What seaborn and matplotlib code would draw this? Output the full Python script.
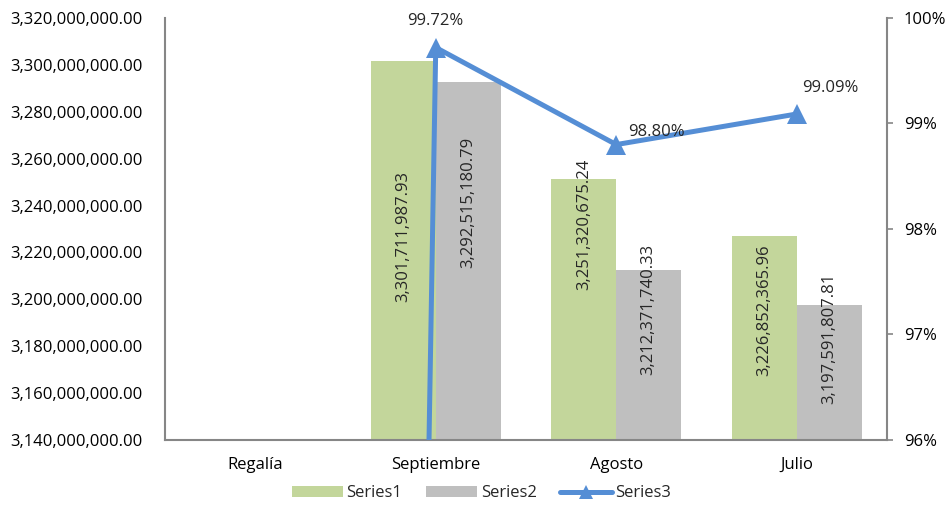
import matplotlib

matplotlib.use("Agg")

import matplotlib.pyplot as plt
import numpy as np
import pandas as pd
import seaborn as sns
from matplotlib.lines import Line2D
from matplotlib.ticker import FuncFormatter, MultipleLocator

# --- chart data ---
categories = ["Regalía", "Septiembre", "Agosto", "Julio"]
series1 = [np.nan, 3301711987.93, 3251320675.24, 3226852365.96]
series2 = [np.nan, 3292515180.79, 3212371740.33, 3197591807.81]
series3 = [0.0, 99.72, 98.80, 99.09]  # percent
series_names = ["Series1", "Series2", "Series3"]

# where excel put the rotated bar labels (left axis units)
label_pos1 = [np.nan, 3.2266e9, 3.2321e9, 3.1955e9]
label_pos2 = [np.nan, 3.2415e9, 3.1955e9, 3.1835e9]
# offsets (points) of the percent labels from their markers
pct_offsets = [(0, 0), (0, 19), (29, 9), (24, 19)]

GREEN = "#C3D69B"
GRAY = "#BFBFBF"
BLUE = "#558ED5"
SPINE = "#868686"

sns.set_theme(style="white")
plt.rcParams["font.family"] = ["Open Sans", "DejaVu Sans"]
plt.rcParams["font.size"] = 12

bars = pd.DataFrame({
    "category": categories * 2,
    "value": series1 + series2,
    "series": [series_names[0]] * 4 + [series_names[1]] * 4,
})

fig = plt.figure(figsize=(9.51, 5.05), dpi=100)
ax = fig.add_axes([0.1735, 0.1287, 0.7592, 0.8357])

sns.barplot(
    data=bars, x="category", y="value", hue="series", order=categories,
    palette=[GREEN, GRAY], width=0.72, saturation=1, linewidth=0,
    errorbar=None, ax=ax,
)
ax.set_ylim(3.14e9, 3.32e9)
ax.yaxis.set_major_locator(MultipleLocator(0.02e9))
ax.yaxis.set_major_formatter(FuncFormatter(lambda v, _: f"{v:,.2f}"))
ax.set_xlabel("")
ax.set_ylabel("")
ax.tick_params(axis="y", length=0, pad=16, labelsize=12, colors="black")
ax.tick_params(axis="x", length=0, pad=12, labelsize=12, colors="black")

# rotated value labels inside the bars
for container, values, spots in zip(ax.containers, [series1, series2], [label_pos1, label_pos2]):
    for patch in container.patches:
        xc = patch.get_x() + patch.get_width() / 2
        i = int(round(xc))
        if np.isnan(values[i]):
            continue
        ax.text(xc, spots[i], f"{values[i]:,.2f}", rotation=90, ha="center", va="center", fontsize=12)

handles, labels = ax.get_legend_handles_labels()
ax.get_legend().remove()

ax2 = ax.twinx()
sns.lineplot(
    x=np.arange(len(categories)), y=series3, ax=ax2, color=BLUE, linewidth=3.6,
    marker="^", markersize=14, markeredgewidth=0,
)
ax2.set_ylim(96, 100)
ax2.yaxis.set_major_locator(MultipleLocator(1))
ax2.yaxis.set_major_formatter(FuncFormatter(lambda v, _: f"{v:.0f}%"))
ax2.tick_params(axis="y", length=4, width=1.2, color=SPINE, pad=8, labelsize=12, labelcolor="black")
ax2.set_ylabel("")
ax.set_xlim(-0.5, len(categories) - 0.5)

for i, (val, off) in enumerate(zip(series3, pct_offsets)):
    if val < 96:
        continue
    ax2.annotate(f"{val:.2f}%", (i, val), xytext=off, textcoords="offset points",
                 ha="center", va="center", fontsize=12)

for a in (ax, ax2):
    a.spines["top"].set_visible(False)
    for side in ("left", "right", "bottom"):
        a.spines[side].set_color(SPINE)
        a.spines[side].set_linewidth(1.5)
ax.spines["right"].set_visible(False)
ax2.spines["left"].set_visible(False)
ax2.spines["bottom"].set_visible(False)

line_handle = Line2D([], [], color=BLUE, linewidth=3.6, marker="^", markersize=10, markeredgewidth=0)
fig.legend(
    handles + [line_handle], labels + [series_names[2]],
    loc="center", bbox_to_anchor=(0.506, 0.023), ncol=3, frameon=False,
    fontsize=12, handlelength=3.1, handleheight=0.6, handletextpad=0.2, columnspacing=1.4,
)

fig.savefig("out.png", dpi=100)
